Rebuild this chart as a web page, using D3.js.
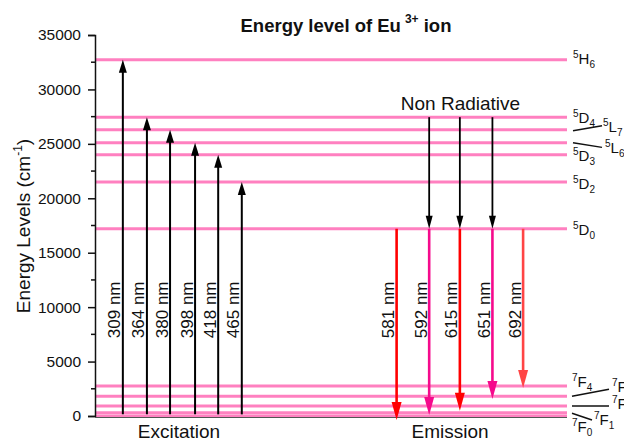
<!DOCTYPE html>
<html>
<head>
<meta charset="utf-8">
<script src="https://cdn.jsdelivr.net/npm/d3@7"></script>
<style>
  body { margin: 0; background: #fff; }
  svg { font-family: "Liberation Sans", Arial, sans-serif; }
</style>
</head>
<body>
<div id="chart"></div>
<script>
const width = 624;
const height = 439;
const margin = { left: 95, top: 35, right: 57, bottom: 23 };
const chartWidth = width - margin.left - margin.right;
const chartHeight = height - margin.top - margin.bottom;

// energy levels (cm-1): multiplicity, letter, J
const levelTerms = ["5H6", "5D4", "5L7", "5L6", "5D3", "5D2", "5D0", "7F4", "7F3", "7F2", "7F1", "7F0"];
const levelEnergies = [32720, 27450, 26300, 25100, 24000, 21500, 17200, 2760, 1810, 920, 300, 0];

// excitation transitions
const excWavelengths = [309, 364, 380, 398, 418, 465];
const excTargets = ["5H6", "5D4", "5L7", "5L6", "5D3", "5D2"];
const excStart = [150, 150, 150, 150, 150, 150];
const excPositions = [5.9, 11.0, 15.9, 21.2, 26.1, 31.1];

// emission transitions from 5D0
const emWavelengths = [581, 592, 615, 651, 692];
const emEnd = [-370, 90, 490, 1560, 2570];
const emPositions = [63.9, 70.8, 77.3, 84.2, 90.7];
const emColors = ["#ff0000", "#f50a8c", "#ff0000", "#f50a8c", "#ff4545"];

// non radiative relaxation 5D4 -> 5D0
const nrPositions = [70.8, 77.3, 84.2];

const yTicks = [0, 5000, 10000, 15000, 20000, 25000, 30000, 35000];
const yMinorTicks = [2500, 7500, 12500, 17500, 22500, 27500, 32500];
const labelEnergy = 9750;

// label layout next to the levels: dx from right end, dy from level to baseline
const levelLabelLayout = {
  "5H6": { dx: 6, dy: 4 },
  "5D4": { dx: 6, dy: 6 },
  "5L7": { dx: 36, dy: 2, leader: [6, 1, 35, -4] },
  "5L6": { dx: 38, dy: 10.5, leader: [6, 0, 35, 4.6] },
  "5D3": { dx: 6, dy: 6.7 },
  "5D2": { dx: 6, dy: 6.7 },
  "5D0": { dx: 6, dy: 6 },
  "7F4": { dx: 5, dy: 1 },
  "7F3": { dx: 45, dy: -4.6, leader: [5, 0, 42, -7] },
  "7F2": { dx: 45, dy: 3, leader: [5, 0, 42, 0] },
  "7F1": { dx: 27, dy: 12.3, leader: [5, 0.6, 25, 7.3] },
  "7F0": { dx: 5, dy: 15.7 },
};

const energyOf = (t) => levelEnergies[levelTerms.indexOf(t)];

let svg;
let xScale;
let yScale;

function createChart() {
  svg = d3
    .select("#chart")
    .append("svg")
    .attr("width", width)
    .attr("height", height);

  xScale = d3.scaleLinear().domain([0, 100]).range([margin.left, margin.left + chartWidth]);
  yScale = d3.scaleLinear().domain([0, 35000]).range([margin.top + chartHeight, margin.top]);

  createLevels();
  createAxes();
  createExcitation();
  createEmission();
  createNonRadiative();
  createTexts();
}

function termText(sel, term, big, small) {
  sel.append("tspan").attr("font-size", small).attr("dy", -6).text(term[0]);
  sel.append("tspan").attr("font-size", big).attr("dy", 6).text(term[1]);
  sel.append("tspan").attr("font-size", small).attr("dy", 4).text(term[2]);
}

function createLevels() {
  const levels = levelTerms.map((t, i) => ({ term: t, e: levelEnergies[i] }));

  svg
    .append("g")
    .selectAll("line")
    .data(levels)
    .enter()
    .append("line")
    .attr("x1", xScale(0))
    .attr("x2", xScale(100))
    .attr("y1", (d) => yScale(d.e))
    .attr("y2", (d) => yScale(d.e))
    .attr("stroke", "#ff80c0")
    .attr("stroke-width", 3);

  const right = xScale(100);
  levels.forEach((d) => {
    const lay = levelLabelLayout[d.term];
    const y = yScale(d.e);
    if (lay.leader) {
      svg
        .append("line")
        .attr("x1", right + lay.leader[0])
        .attr("y1", y + lay.leader[1])
        .attr("x2", right + lay.leader[2])
        .attr("y2", y + lay.leader[3])
        .attr("stroke", "#111")
        .attr("stroke-width", 1.5);
    }
    const t = svg
      .append("text")
      .attr("x", right + lay.dx)
      .attr("y", y + lay.dy)
      .attr("fill", "#111");
    termText(t, d.term, 15, 10);
  });
}

function createAxes() {
  const axis = svg
    .append("g")
    .attr("transform", "translate(" + margin.left + ",0)")
    .call(
      d3.axisLeft(yScale).tickValues(yTicks).tickSize(7).tickPadding(7).tickFormat(d3.format("d"))
    );
  axis.select(".domain").attr("stroke", "#111").attr("stroke-width", 1.5);
  axis.selectAll(".tick line").attr("stroke", "#111").attr("stroke-width", 1.5);
  axis
    .selectAll(".tick text")
    .attr("font-size", 15.5)
    .attr("font-family", "Liberation Sans, Arial, sans-serif")
    .attr("fill", "#111");

  svg
    .append("g")
    .selectAll("line")
    .data(yMinorTicks)
    .enter()
    .append("line")
    .attr("x1", margin.left - 4)
    .attr("x2", margin.left)
    .attr("y1", (d) => yScale(d))
    .attr("y2", (d) => yScale(d))
    .attr("stroke", "#111")
    .attr("stroke-width", 1.5);

  svg
    .append("line")
    .attr("x1", xScale(0))
    .attr("x2", xScale(100))
    .attr("y1", yScale(0) + 1.5)
    .attr("y2", yScale(0) + 1.5)
    .attr("stroke", "#555")
    .attr("stroke-width", 1.2);
}

// arrow from (x, yFrom) to (x, yTo), tip at yTo
function arrow(x, yFrom, yTo, color, sw, hw, hl) {
  const dir = yTo < yFrom ? -1 : 1;
  svg
    .append("line")
    .attr("x1", x)
    .attr("x2", x)
    .attr("y1", yFrom)
    .attr("y2", yTo - dir * hl * 0.8)
    .attr("stroke", color)
    .attr("stroke-width", sw);
  svg
    .append("path")
    .attr(
      "d",
      "M" + x + "," + yTo +
        "L" + (x - hw / 2) + "," + (yTo - dir * hl) +
        "L" + (x + hw / 2) + "," + (yTo - dir * hl) + "Z"
    )
    .attr("fill", color);
}

function arrowLabel(x, text) {
  svg
    .append("text")
    .attr("transform", "translate(" + (x - 2.5) + "," + yScale(labelEnergy) + ") rotate(-90)")
    .attr("text-anchor", "middle")
    .attr("font-size", 17)
    .attr("fill", "#111")
    .text(text);
}

function createExcitation() {
  excWavelengths.forEach((w, i) => {
    const x = xScale(excPositions[i]);
    arrow(x, yScale(excStart[i]), yScale(energyOf(excTargets[i])), "#000", 2, 8, 13);
    arrowLabel(x, w + " nm");
  });
}

function createEmission() {
  emWavelengths.forEach((w, i) => {
    const x = xScale(emPositions[i]);
    arrow(x, yScale(energyOf("5D0")), yScale(emEnd[i]), emColors[i], 2.6, 10, 18);
    arrowLabel(x, w + " nm");
  });
}

function createNonRadiative() {
  nrPositions.forEach((p) => {
    arrow(xScale(p), yScale(energyOf("5D4")), yScale(energyOf("5D0")), "#000", 1.8, 7, 13);
  });
}

function createTexts() {
  const title = svg
    .append("text")
    .attr("x", 346)
    .attr("y", 31.5)
    .attr("text-anchor", "middle")
    .attr("font-size", 18.5)
    .attr("font-weight", "bold")
    .attr("fill", "#111");
  title.append("tspan").text("Energy level of Eu");
  title.append("tspan").attr("font-size", 12).attr("dx", 4).attr("dy", -9).text("3+");
  title.append("tspan").attr("dy", 9).text(" ion");

  const yl = svg
    .append("text")
    .attr("transform", "translate(30," + 226 + ") rotate(-90)")
    .attr("text-anchor", "middle")
    .attr("font-size", 19)
    .attr("fill", "#111");
  yl.append("tspan").text("Energy Levels (cm");
  yl.append("tspan").attr("font-size", 12).attr("dy", -8).text("-1");
  yl.append("tspan").attr("dy", 8).text(")");

  svg
    .append("text")
    .attr("x", xScale(d3.mean(nrPositions)))
    .attr("y", 109.5)
    .attr("text-anchor", "middle")
    .attr("font-size", 19)
    .attr("fill", "#111")
    .text("Non Radiative");

  svg
    .append("text")
    .attr("x", 179)
    .attr("y", 438)
    .attr("text-anchor", "middle")
    .attr("font-size", 19)
    .attr("fill", "#111")
    .text("Excitation");

  svg
    .append("text")
    .attr("x", 450)
    .attr("y", 438)
    .attr("text-anchor", "middle")
    .attr("font-size", 19)
    .attr("fill", "#111")
    .text("Emission");
}

createChart();
</script>
</body>
</html>
